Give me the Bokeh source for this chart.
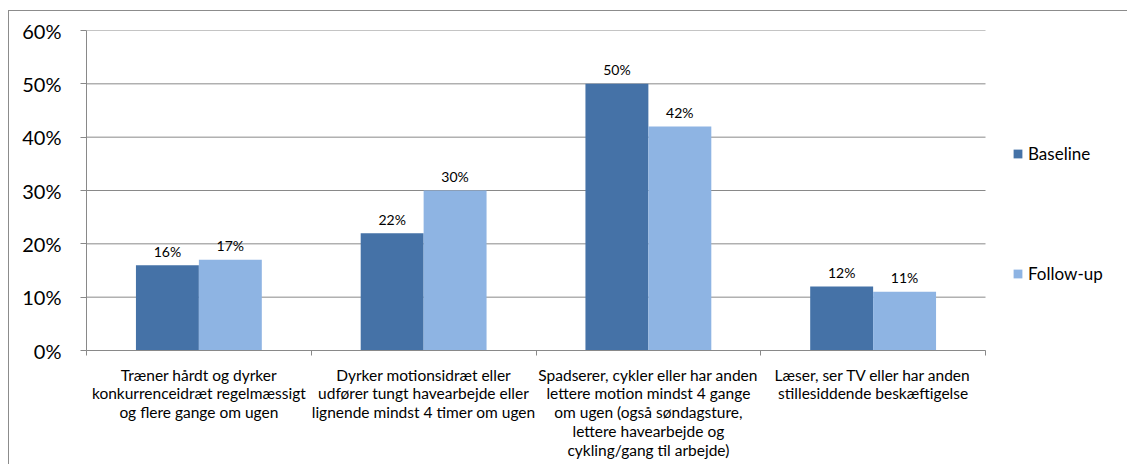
from bokeh.plotting import figure
from bokeh.models import (Range1d, FixedTicker, NumeralTickFormatter, ColumnDataSource,
                          Legend, LegendItem)
from bokeh.core.properties import value
from bokeh.embed import file_html
from bokeh.resources import INLINE

categories = [
    "Træner hårdt og dyrker\nkonkurrenceidræt regelmæssigt\nog flere gange om ugen",
    "Dyrker motionsidræt eller\nudfører tungt havearbejde eller\nlignende mindst 4 timer om ugen",
    "Spadserer, cykler eller har anden\nlettere motion mindst 4 gange\nom ugen (også søndagsture,\nlettere havearbejde og\ncykling/gang til arbejde)",
    "Læser, ser TV eller har anden\nstillesiddende beskæftigelse",
]
series_names = ["Baseline", "Follow-up"]
baseline = [0.16, 0.22, 0.50, 0.12]
followup = [0.17, 0.30, 0.42, 0.11]
y_ticks = [0.0, 0.1, 0.2, 0.3, 0.4, 0.5, 0.6]

colors = ["#4572A7", "#8EB4E3"]
FONT = "Lato"
GRID = "#898989"
BAR_W = 0.28

# layout (pixels)
W, H = 1119, 454
LEFT, TOP, BOTTOM = 77, 19, 115
CAT_AREA_W = 899          # width of the category area inside the frame
FRAME_W = W - LEFT        # frame extends to the right edge (legend lives inside it)

n = len(categories)
centers = [i + 0.5 for i in range(n)]
x_end = n * FRAME_W / CAT_AREA_W

p = figure(width=W, height=H, output_backend="svg", toolbar_location=None,
           x_range=Range1d(0, x_end), y_range=Range1d(0, 0.6),
           min_border_left=LEFT, min_border_right=0, min_border_top=TOP, min_border_bottom=BOTTOM,
           styles={"margin-left": "8px", "margin-top": "10px",
                   "border-left": "1px solid #8c8c8c",
                   "border-top": "1px solid #8c8c8c"})
p.outline_line_color = None
p.background_fill_color = "white"
p.border_fill_color = "white"

# horizontal gridlines limited to the category area
p.segment(x0=[0] * len(y_ticks), x1=[n] * len(y_ticks), y0=y_ticks, y1=y_ticks,
          line_color=GRID, line_width=1)

renderers = []
for k, (vals, col) in enumerate(zip([baseline, followup], colors)):
    off = (k - 0.5) * BAR_W
    xs = [c + off for c in centers]
    src = ColumnDataSource(dict(x=xs, top=vals, lbl=[f"{round(v*100)}%" for v in vals]))
    r = p.vbar(x="x", top="top", width=BAR_W, bottom=0, source=src,
               fill_color=col, line_color=None)
    renderers.append(r)
    p.text(x="x", y="top", text="lbl", source=src, text_align="center",
           text_baseline="alphabetic", y_offset=-14, text_font=value(FONT),
           text_font_size="14px", text_color="black")

# axes
p.yaxis.ticker = FixedTicker(ticks=y_ticks)
p.yaxis.formatter = NumeralTickFormatter(format="0%")
p.yaxis.major_label_text_font = FONT
p.yaxis.major_label_text_font_size = "20px"
p.yaxis.major_label_text_color = "black"
p.yaxis.major_label_standoff = 19
p.yaxis.axis_line_color = GRID
p.yaxis.major_tick_line_color = GRID
p.yaxis.major_tick_out = 6
p.yaxis.major_tick_in = 0
p.yaxis.minor_tick_line_color = None

p.xaxis.bounds = (0, n)
p.xaxis.ticker = FixedTicker(ticks=centers, minor_ticks=list(range(n + 1)))
p.xaxis.major_label_overrides = {c: lab for c, lab in zip(centers, categories)}
p.xaxis.major_tick_line_color = None
p.xaxis.minor_tick_line_color = GRID
p.xaxis.minor_tick_out = 5
p.xaxis.minor_tick_in = 0
p.xaxis.axis_line_color = GRID
p.xaxis.major_label_text_font = FONT
p.xaxis.major_label_text_font_size = "15.5px"
p.xaxis.major_label_text_color = "black"
p.xaxis.major_label_text_line_height = 1.05
p.xaxis.major_label_standoff = 9

p.xgrid.grid_line_color = None
p.ygrid.grid_line_color = None

legend = Legend(items=[LegendItem(label=nm, renderers=[r]) for nm, r in zip(series_names, renderers)],
                location=(926, 66), orientation="vertical",
                glyph_width=11, glyph_height=11, label_height=20, label_standoff=5,
                spacing=99, padding=0, margin=0,
                border_line_color=None, background_fill_alpha=0,
                label_text_font=FONT, label_text_font_size="17px", label_text_color="black")
p.add_layout(legend, "center")

open("out.html", "w").write(file_html(p, INLINE))
